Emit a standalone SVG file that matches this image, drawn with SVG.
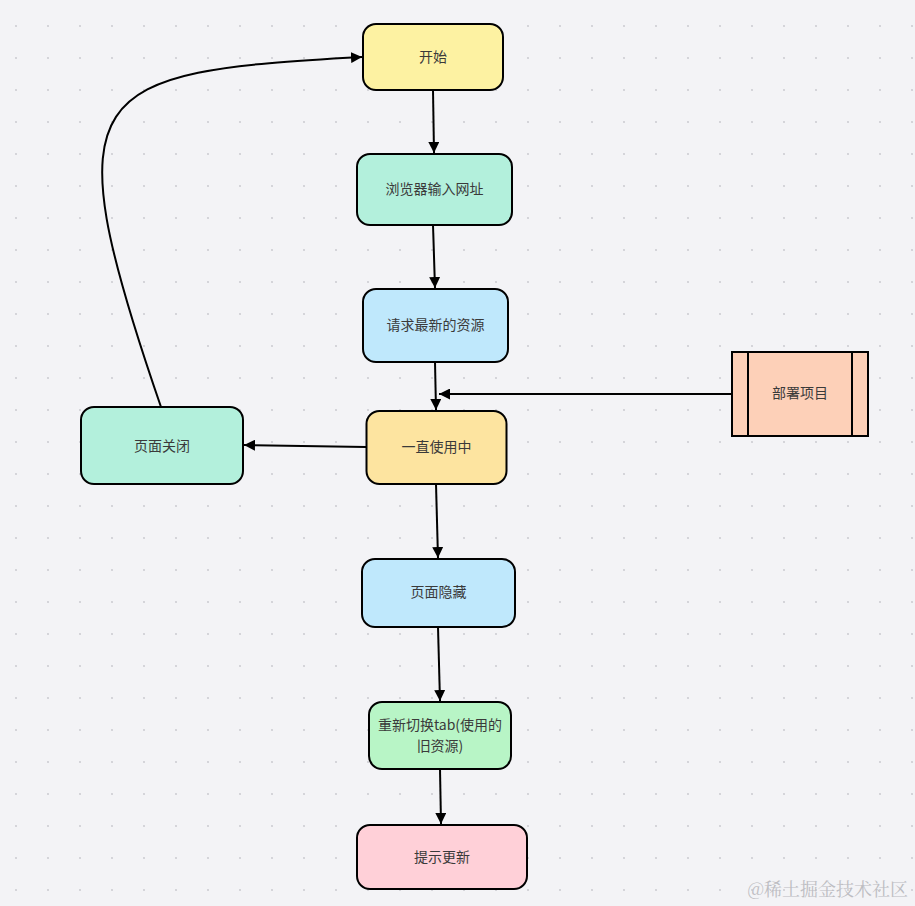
<svg xmlns="http://www.w3.org/2000/svg" width="915" height="906" viewBox="0 0 915 906">
<defs>
<pattern id="dots" patternUnits="userSpaceOnUse" x="0" y="0" width="32" height="32">
<circle cx="16" cy="26" r="1.1" fill="#cdcdd3"/>
</pattern>
<marker id="arr" markerUnits="userSpaceOnUse" markerWidth="12" markerHeight="11" refX="11" refY="5.5" orient="auto">
<path d="M0,0 L11,5.5 L0,11 z" fill="#000"/>
</marker>
<style>
.n rect{stroke:#000;stroke-width:2}
.n line{stroke:#000;stroke-width:2}
.n text{font-family:"Noto Sans CJK SC","Noto Sans",sans-serif;font-size:14px;fill:#3a3a3a;text-anchor:middle}
#edges path{fill:none;stroke:#000;stroke-width:2;marker-end:url(#arr)}
.wm{font-family:"Noto Serif CJK SC","Noto Sans CJK SC",serif;font-size:18px;fill:#bdbdc2}
</style>
</defs>
<rect width="915" height="906" fill="#f3f3f6"/>
<rect width="915" height="906" fill="url(#dots)"/>

<g id="edges">
<path d="M433,90 L434,153"/>
<path d="M433,225 L435,288"/>
<path d="M435,362 L436,410"/>
<path d="M732,394 L439,394"/>
<path d="M366,447 L244,445"/>
<path d="M436,484 L438,558"/>
<path d="M438,627 L440,701"/>
<path d="M440,769 L441,824"/>
<path d="M161,407 C50,85 85,72 362,57"/>
</g>

<g id="start" class="n">
<rect x="363" y="24" width="140" height="66" rx="13" fill="#fdf2a2"/>
<text x="433" y="62">开始</text>
</g>
<g id="browser" class="n">
<rect x="357" y="154" width="155" height="71" rx="13" fill="#b3f0dc"/>
<text x="434.5" y="194">浏览器输入网址</text>
</g>
<g id="request" class="n">
<rect x="363" y="289" width="145" height="73" rx="13" fill="#bfe8fc"/>
<text x="435.5" y="330">请求最新的资源</text>
</g>
<g id="using" class="n">
<rect x="366.5" y="411" width="140" height="73" rx="13" fill="#fde4a0"/>
<text x="436.5" y="452">一直使用中</text>
</g>
<g id="deploy" class="n">
<rect x="732" y="352" width="136" height="84" fill="#fdd0b8"/>
<line x1="748" y1="352" x2="748" y2="436"/>
<line x1="852" y1="352" x2="852" y2="436"/>
<text x="800" y="398">部署项目</text>
</g>
<g id="close" class="n">
<rect x="81" y="407" width="162" height="77" rx="13" fill="#b3f0dc"/>
<text x="162" y="451">页面关闭</text>
</g>
<g id="hidden" class="n">
<rect x="362" y="559" width="153" height="68" rx="13" fill="#bfe8fc"/>
<text x="438.5" y="597">页面隐藏</text>
</g>
<g id="switch" class="n">
<rect x="369" y="702" width="142" height="67" rx="13" fill="#b8f5c6"/>
<text x="440" y="730">重新切换tab(使用的</text>
<text x="440" y="751">旧资源)</text>
</g>
<g id="update" class="n">
<rect x="357" y="825" width="170" height="64" rx="13" fill="#ffd0d8"/>
<text x="442" y="862">提示更新</text>
</g>

<text class="wm" x="908" y="896" text-anchor="end">@稀土掘金技术社区</text>
</svg>
